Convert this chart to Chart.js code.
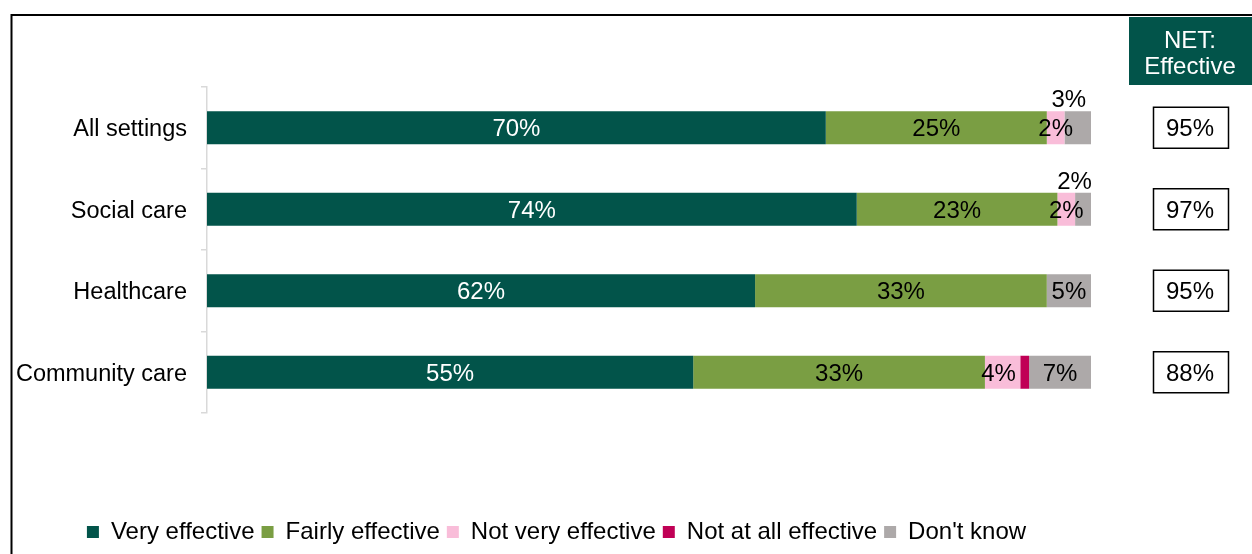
<!DOCTYPE html>
<html>
<head>
<meta charset="utf-8">
<script src="https://cdn.jsdelivr.net/npm/chart.js@4"></script>
<style>
  html, body { margin: 0; padding: 0; background: #fff; }
  #wrap { position: relative; width: 1252px; height: 554px; overflow: hidden; }
</style>
</head>
<body>
<div id="wrap"><canvas id="c" width="1252" height="554"></canvas></div>
<script>
const categories = ['All settings', 'Social care', 'Healthcare', 'Community care'];
const seriesNames = ['Very effective', 'Fairly effective', 'Not very effective', 'Not at all effective', "Don't know"];
const veryEffective   = [70, 73.5, 62, 55];
const fairlyEffective = [25, 22.7, 33, 33];
const notVery         = [2, 2.0, 0, 4];
const notAtAll        = [0, 0, 0, 1];
const dontKnow        = [3, 1.9, 5, 7];
const dontKnowLabels  = ['3%', '2%', '5%', '7%'];
const netLabels       = ['95%', '97%', '95%', '88%'];
const netHeader       = ['NET:', 'Effective'];
const colors = ['#02544A', '#7A9E43', '#F9BDD9', '#C00055', '#ADA9A9'];

const FONT = "'Liberation Sans', Arial, sans-serif";
Chart.defaults.font.family = FONT;
Chart.defaults.font.size = 24;
Chart.defaults.color = '#000';

const seriesData = [veryEffective, fairlyEffective, notVery, notAtAll, dontKnow];

const labelPlugin = {
  id: 'segLabels',
  afterLayout(chart) {
    if (chart.legend) { chart.legend.left += 11; chart.legend.right += 11; }
  },
  afterDatasetsDraw(chart) {
    const ctx = chart.ctx;
    ctx.save();
    ctx.font = "24px " + FONT;
    ctx.textAlign = 'center';
    ctx.textBaseline = 'middle';
    chart.data.datasets.forEach((ds, di) => {
      const meta = chart.getDatasetMeta(di);
      meta.data.forEach((bar, i) => {
        const v = ds.data[i];
        if (!v || v < 1.5) return;
        const w = Math.abs(bar.x - bar.base);
        const x = (bar.x + bar.base) / 2;
        let txt = Math.round(v) + '%';
        if (di === 4) txt = dontKnowLabels[i];
        ctx.fillStyle = di === 0 ? '#fff' : '#000';
        if (di === 4 && w < 30) {
          ctx.fillText(txt, x - 9, bar.y - 27);
        } else if (di === 2 && w > 30) {
          ctx.fillText(txt, x - 4, bar.y + 2);
        } else {
          ctx.fillText(txt, x, bar.y + 2);
        }
      });
    });
    ctx.restore();
  },
  afterDraw(chart) {
    const ctx = chart.ctx;
    const ys = chart.scales.y;
    ctx.save();
    ctx.strokeStyle = '#000';
    ctx.lineWidth = 2;
    ctx.beginPath();
    ctx.moveTo(11.5, 560);
    ctx.lineTo(11.5, 15);
    ctx.lineTo(1260, 15);
    ctx.stroke();
    ctx.fillStyle = '#02544A';
    ctx.fillRect(1129, 17, 124, 68);
    ctx.fillStyle = '#fff';
    ctx.font = "24px " + FONT;
    ctx.textAlign = 'center';
    ctx.textBaseline = 'middle';
    ctx.fillText(netHeader[0], 1190, 41);
    ctx.fillText(netHeader[1], 1190, 67);
    ctx.lineWidth = 1.5;
    categories.forEach((c, i) => {
      const y = ys.getPixelForValue(i);
      ctx.fillStyle = '#fff';
      ctx.fillRect(1153, y - 20, 75, 41);
      ctx.strokeStyle = '#000';
      ctx.strokeRect(1153.5, y - 20.5, 75, 41);
      ctx.fillStyle = '#000';
      ctx.fillText(netLabels[i], 1190, y + 2);
    });
    ctx.restore();
  }
};

new Chart(document.getElementById('c'), {
  type: 'bar',
  data: {
    labels: categories,
    datasets: seriesNames.map((n, k) => ({
      label: n,
      data: seriesData[k],
      backgroundColor: colors[k],
      borderWidth: 0,
      barPercentage: 0.405,
      categoryPercentage: 1
    }))
  },
  options: {
    indexAxis: 'y',
    responsive: false,
    animation: false,
    layout: { padding: { top: 87, right: 161, left: 0, bottom: 0 } },
    scales: {
      x: {
        stacked: true, min: 0, max: 100,
        grid: { display: false },
        border: { display: false },
        ticks: { display: false },
        afterFit(s) { s.height = 100; }
      },
      y: {
        stacked: true,
        grid: { offset: true, drawOnChartArea: false, color: '#d9d9d9', tickLength: 6, lineWidth: 1.5 },
        border: { color: '#d9d9d9', width: 1.5 },
        ticks: { color: '#000', font: { size: 23.5 }, padding: 14, labelOffset: 2 },
        afterFit(s) { s.width = 207; }
      }
    },
    plugins: {
      legend: {
        position: 'bottom',
        labels: { boxWidth: 12, boxHeight: 12, padding: 7, color: '#000', font: { size: 24 } }
      },
      tooltip: { enabled: false }
    }
  },
  plugins: [labelPlugin]
});
</script>
</body>
</html>
